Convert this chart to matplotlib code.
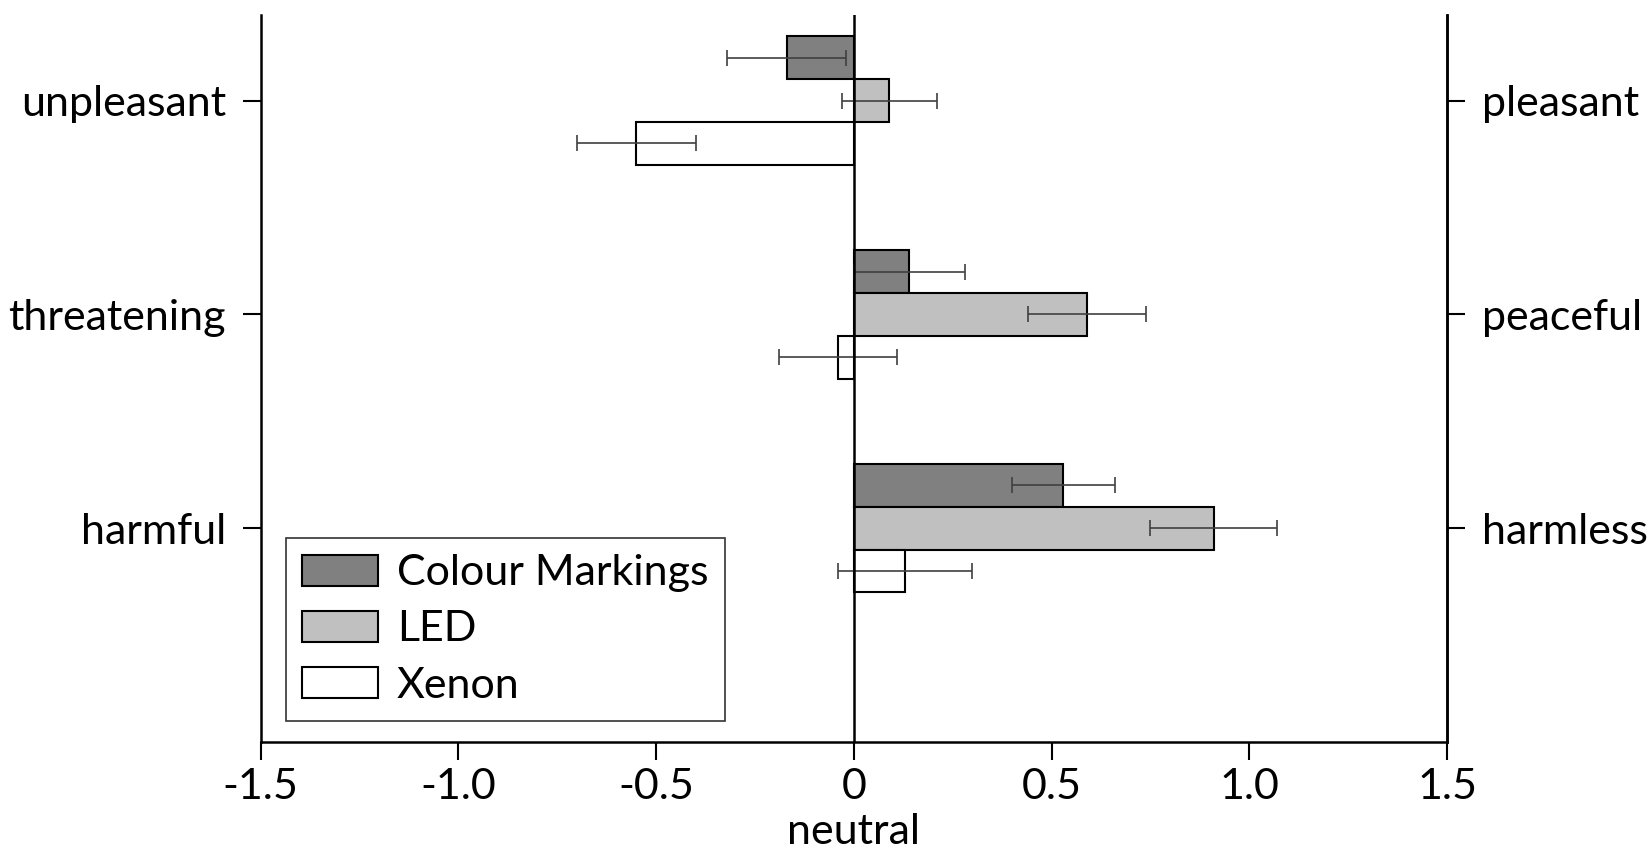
import numpy as np
import matplotlib.pyplot as plt

# Mittelwerte und Fehler je Skala (negativ = linker Pol)
left_labels = ['unpleasant', 'threatening', 'harmful']
right_labels = ['pleasant', 'peaceful', 'harmless']
series = ['Colour Markings', 'LED', 'Xenon']
colour_markings = [-0.17, 0.14, 0.53]
led = [0.09, 0.59, 0.91]
xenon = [-0.55, -0.04, 0.13]
err_colour = [0.15, 0.14, 0.13]
err_led = [0.12, 0.15, 0.16]
err_xenon = [0.15, 0.15, 0.17]

plt.rcParams['font.family'] = ['Lato', 'DejaVu Sans']
fs = 31

fig = plt.figure(figsize=(16.48, 8.49), dpi=100)
ax = fig.add_axes([260.6 / 1648, 1 - 742 / 849, (1447 - 260.6) / 1648, (742 - 15) / 849])

pos = np.arange(len(left_labels))
h = 0.2
fills = ['#808080', '#c0c0c0', 'white']
vals = [colour_markings, led, xenon]
errs = [err_colour, err_led, err_xenon]
for i in range(3):
    y = pos + (i - 1) * h
    ax.barh(y, vals[i], height=h, color=fills[i], edgecolor='black',
            linewidth=1.5, label=series[i], zorder=2)
    ax.errorbar(vals[i], y, xerr=errs[i], fmt='none', ecolor='#404040',
                elinewidth=1.2, capsize=6, capthick=1.2, zorder=3)

ax.axvline(0, color='black', linewidth=1.8, zorder=4)

ax.set_xlim(-1.5, 1.5)
ax.set_ylim(3.0, -0.40)
ax.set_xticks([-1.5, -1.0, -0.5, 0, 0.5, 1.0, 1.5])
ax.set_xticklabels(['-1.5', '-1.0', '-0.5', '0', '0.5', '1.0', '1.5'])
ax.set_yticks(pos)
ax.set_yticklabels(left_labels)
ax.set_xlabel('neutral', fontsize=fs)
ax.xaxis.set_label_coords(0.5, -0.097)

ax.spines['top'].set_visible(False)
for s in ['left', 'right', 'bottom']:
    ax.spines[s].set_linewidth(1.8)
ax.tick_params(axis='x', direction='out', length=13, width=1.5, labelsize=fs, pad=6)
ax.tick_params(axis='y', direction='out', length=13, width=1.5, labelsize=fs, pad=12)

ax2 = ax.twinx()
ax2.set_ylim(ax.get_ylim())
ax2.set_yticks(pos)
ax2.set_yticklabels(right_labels)
ax2.tick_params(axis='y', direction='out', length=13, width=1.5, labelsize=fs, pad=12)
for s in ['top', 'left', 'bottom']:
    ax2.spines[s].set_visible(False)
ax2.spines['right'].set_linewidth(1.8)

leg = ax.legend(loc='lower left', bbox_to_anchor=(0.021, 0.029), fontsize=fs,
                frameon=True, fancybox=False, edgecolor='black',
                handlelength=1.76, handleheight=0.75, labelspacing=0.42,
                borderpad=0.38, borderaxespad=0, handletextpad=0.45)
leg.get_frame().set_linewidth(1.2)

plt.savefig('out.png', dpi=100)
